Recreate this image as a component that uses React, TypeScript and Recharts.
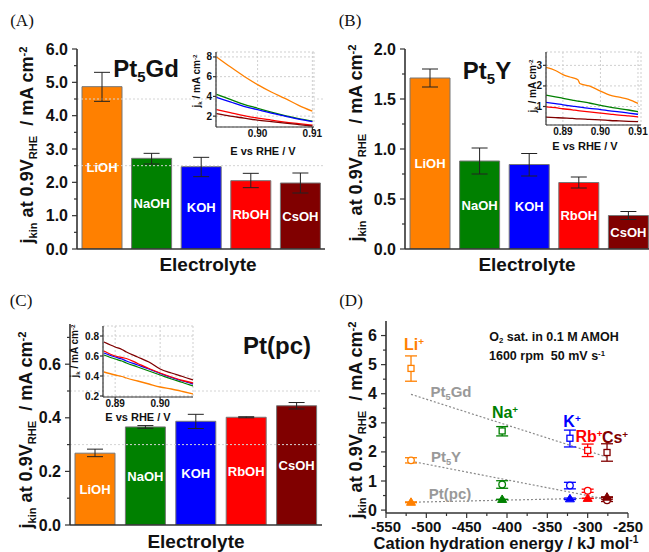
import React from 'react';
import {
  BarChart,
  Bar,
  Cell,
  XAxis,
  YAxis,
  ErrorBar,
  LabelList,
  ReferenceLine,
  LineChart,
  Line,
  CartesianGrid,
  ComposedChart,
  Scatter,
} from 'recharts';

const FONT = '"Liberation Sans", Arial, Helvetica, sans-serif';
const SERIF = '"Liberation Serif", "Times New Roman", serif';
const AXIS = '#333';

// categories
const electrolytes = ['LiOH', 'NaOH', 'KOH', 'RbOH', 'CsOH'];
const cations = ['Li', 'Na', 'K', 'Rb', 'Cs'];
const colors = ['#ff8000', '#008000', '#0000ff', '#ff0000', '#800000'];
const hydrationEnergy = [-519, -406, -322, -300, -276];

// j_kin at 0.9 V_RHE, mA cm-2 (value, low and high end of the error bar)
const pt5GdValues = [4.87, 2.72, 2.47, 2.05, 1.98];
const pt5GdLow = [4.43, 2.55, 2.17, 1.84, 1.68];
const pt5GdHigh = [5.3, 2.87, 2.75, 2.27, 2.28];
const pt5YValues = [1.71, 0.88, 0.845, 0.665, 0.335];
const pt5YLow = [1.62, 0.75, 0.73, 0.61, 0.295];
const pt5YHigh = [1.8, 1.01, 0.955, 0.72, 0.375];
const ptPcValues = [0.268, 0.366, 0.387, 0.402, 0.445];
const ptPcLow = [0.255, 0.361, 0.36, 0.4, 0.433];
const ptPcHigh = [0.283, 0.371, 0.413, 0.404, 0.457];

// dotted trend lines in (D)
const trendX = [-519, -276];
const gdTrendY = [3.98, 1.82];
const yTrendY = [1.68, 0.37];
const pcTrendY = [0.27, 0.42];

// ticks
const yMajorA = [0, 1, 2, 3, 4, 5, 6];
const yMinorA = [0.5, 1.5, 2.5, 3.5, 4.5, 5.5];
const yMajorB = [0, 0.5, 1, 1.5, 2];
const yMinorB = [0.25, 0.75, 1.25, 1.75];
const yMajorC = [0, 0.2, 0.4, 0.6];
const yMinorC = [0.1, 0.3, 0.5, 0.7];
const yMajorD = [0, 1, 2, 3, 4, 5, 6];
const yMinorD = [0.5, 1.5, 2.5, 3.5, 4.5, 5.5];
const xMajorD = [-550, -500, -450, -400, -350, -300, -250];
const xMinorD = [-525, -475, -425, -375, -325, -275];

// insets: j_k vs E
const insetAE = [0.8925, 0.895, 0.8975, 0.9, 0.9025, 0.905, 0.9075, 0.91];
const insetALi = [8.0, 7.0, 6.05, 5.2, 4.45, 3.8, 3.1, 2.5];
const insetANa = [4.2, 3.7, 3.2, 2.8, 2.4, 2.05, 1.75, 1.5];
const insetAK = [3.9, 3.45, 3.0, 2.65, 2.3, 2.0, 1.7, 1.45];
const insetARb = [2.65, 2.35, 2.05, 1.8, 1.6, 1.4, 1.25, 1.1];
const insetACs = [2.25, 2.0, 1.8, 1.6, 1.45, 1.3, 1.15, 1.0];

const insetBE = [0.8855, 0.888, 0.89, 0.8925, 0.894, 0.8945, 0.897, 0.9, 0.9025, 0.905, 0.9075, 0.91];
const insetBLi = [2.9, 2.75, 2.55, 2.4, 2.3, 2.12, 2.0, 1.75, 1.55, 1.45, 1.35, 1.15];
const insetBNa = [1.55, 1.47, 1.4, 1.31, 1.26, 1.25, 1.17, 1.05, 0.97, 0.9, 0.83, 0.75];
const insetBK = [1.2, 1.14, 1.08, 1.02, 0.98, 0.97, 0.91, 0.85, 0.79, 0.74, 0.68, 0.62];
const insetBRb = [0.98, 0.94, 0.89, 0.84, 0.8, 0.79, 0.74, 0.68, 0.63, 0.58, 0.54, 0.5];
const insetBCs = [0.48, 0.46, 0.44, 0.42, 0.4, 0.4, 0.37, 0.35, 0.32, 0.3, 0.28, 0.26];

const insetCE = [0.8875, 0.89, 0.8915, 0.8925, 0.895, 0.8975, 0.9, 0.9025, 0.905, 0.9073];
const insetCLi = [0.44, 0.41, 0.395, 0.38, 0.35, 0.32, 0.29, 0.27, 0.245, 0.22];
const insetCNa = [0.61, 0.57, 0.55, 0.53, 0.49, 0.45, 0.41, 0.37, 0.335, 0.3];
const insetCK = [0.63, 0.59, 0.57, 0.55, 0.51, 0.47, 0.425, 0.385, 0.35, 0.32];
const insetCRb = [0.65, 0.6, 0.585, 0.575, 0.525, 0.475, 0.43, 0.39, 0.355, 0.33];
const insetCCs = [0.74, 0.69, 0.665, 0.64, 0.59, 0.54, 0.47, 0.43, 0.395, 0.36];

const frameLine = { stroke: AXIS, strokeWidth: 1.6 };

function yTick(axisX: number, majors: number[], fmt: (v: number) => string, size: number) {
  return (p: any) => {
    const v = p.payload.value;
    const major = majors.includes(v);
    return (
      <g>
        <line x1={axisX - (major ? 5 : 3)} x2={axisX} y1={p.y} y2={p.y} stroke={AXIS} strokeWidth={1.2} />
        {major && (
          <text x={axisX - 9} y={p.y} textAnchor="end" dominantBaseline="central"
            fontSize={size} fontWeight="bold" fontFamily={FONT} fill="#111">
            {fmt(v)}
          </text>
        )}
      </g>
    );
  };
}

function xTick(axisY: number, majors: number[], size: number) {
  return (p: any) => {
    const v = p.payload.value;
    const major = majors.includes(v);
    return (
      <g>
        <line x1={p.x} x2={p.x} y1={axisY} y2={axisY + (major ? 5 : 3)} stroke={AXIS} strokeWidth={1.2} />
        {major && (
          <text x={p.x} y={axisY + 13} textAnchor="middle" dominantBaseline="central"
            fontSize={size} fontWeight="bold" fontFamily={FONT} fill="#111">
            {v}
          </text>
        )}
      </g>
    );
  };
}

function Txt({ x, y, size, color = '#111', bold = true, serif = false, rotate = false, children }: any) {
  return (
    <div
      style={{
        position: 'absolute',
        left: x,
        top: y,
        transform: `translate(-50%, -50%)${rotate ? ' rotate(-90deg)' : ''}`,
        whiteSpace: 'pre',
        lineHeight: 1,
        fontSize: size,
        fontWeight: bold ? 'bold' : 'normal',
        fontFamily: serif ? SERIF : FONT,
        color,
      }}
    >
      {children}
    </div>
  );
}

const Sub = ({ children }: any) => (
  <span style={{ fontSize: '0.62em', position: 'relative', top: '0.32em' }}>{children}</span>
);
const Sup = ({ children }: any) => (
  <span style={{ fontSize: '0.62em', position: 'relative', top: '-0.55em' }}>{children}</span>
);

const JkinLabel = () => (
  <>
    j<Sub>kin</Sub> at 0.9V<Sub>RHE</Sub>{'  '}/ mA cm<Sup>-2</Sup>
  </>
);

function BarPanel(p: any) {
  const data = electrolytes.map((name, i) => ({
    name,
    value: p.values[i],
    err: [p.values[i] - p.low[i], p.high[i] - p.values[i]],
  }));
  return (
    <div style={{ position: 'absolute', left: p.left, top: p.top }}>
      <BarChart width={p.width} height={p.height} data={data}
        margin={{ top: p.mTop, right: p.mRight, left: 0, bottom: 0 }}>
        <XAxis dataKey="name" tick={false} tickLine={false} height={p.xH} axisLine={frameLine} />
        <XAxis xAxisId="t" orientation="top" type="number" domain={[0, 1]} tick={false}
          tickLine={false} height={0} axisLine={frameLine} />
        <YAxis type="number" domain={[0, p.yMax]} allowDataOverflow ticks={[...p.majors, ...p.minors]}
          interval={0} width={p.yW} tickLine={false} axisLine={frameLine}
          tick={yTick(p.yW, p.majors, p.fmt, 16)} />
        <YAxis yAxisId="r" orientation="right" type="number" domain={[0, 1]} width={0}
          tick={false} tickLine={false} axisLine={frameLine} />
        {p.gridLines.map((v: number) => (
          <ReferenceLine key={v} y={v} stroke="#d4d4d4" strokeDasharray="2 2" />
        ))}
        <Bar dataKey="value" barSize={40} stroke="#777" strokeWidth={1} isAnimationActive={false}>
          {data.map((d, i) => (
            <Cell key={d.name} fill={colors[i]} />
          ))}
          <LabelList dataKey="name" position="center" fill="#fff" fontSize={13}
            fontWeight="bold" fontFamily={FONT} />
          <ErrorBar dataKey="err" width={8} stroke="#222" strokeWidth={1} direction="y" />
        </Bar>
      </BarChart>
    </div>
  );
}

function Inset(p: any) {
  const data = p.E.map((e: number, i: number) => ({
    E: e,
    li: p.series[0][i],
    na: p.series[1][i],
    k: p.series[2][i],
    rb: p.series[3][i],
    cs: p.series[4][i],
  }));
  const tickStyle = { fontSize: 10, fontWeight: 'bold', fill: '#111', fontFamily: FONT };
  const thin = { stroke: AXIS, strokeWidth: 1.2 };
  return (
    <div style={{ position: 'absolute', left: p.left, top: p.top }}>
      <LineChart width={p.width} height={p.height} data={data}
        margin={{ top: p.mTop, right: p.mRight, left: 0, bottom: 0 }}>
        <CartesianGrid stroke="#cfcfcf" strokeDasharray="2 2" fill="#fff" />
        <XAxis dataKey="E" type="number" domain={p.xDomain} allowDataOverflow ticks={p.xTicks}
          interval={0} tickFormatter={(v: number) => v.toFixed(2)} height={p.xH} tick={tickStyle}
          tickSize={3} tickMargin={0} axisLine={thin} tickLine={thin} />
        <XAxis xAxisId="t" orientation="top" type="number" domain={[0, 1]} tick={false}
          tickLine={false} height={0} axisLine={thin} />
        <YAxis type="number" domain={p.yDomain} allowDataOverflow ticks={p.yTicks} interval={0}
          width={p.yW} tick={tickStyle} tickSize={3} tickMargin={1} axisLine={thin} tickLine={thin} />
        <YAxis yAxisId="r" orientation="right" type="number" domain={[0, 1]} width={0}
          tick={false} tickLine={false} axisLine={thin} />
        {['li', 'na', 'k', 'rb', 'cs'].map((k, i) => (
          <Line key={k} dataKey={k} type="monotone" stroke={colors[i]} strokeWidth={1.3}
            dot={false} isAnimationActive={false} />
        ))}
      </LineChart>
    </div>
  );
}

function markerShape(color: string) {
  return (props: any) => {
    const { cx, cy, payload } = props;
    if (cx == null || cy == null) return <g />;
    if (payload.mat === 'gd') {
      return <rect x={cx - 3} y={cy - 3} width={6} height={6} fill="#fff" stroke={color} strokeWidth={1.3} />;
    }
    if (payload.mat === 'y') {
      return <circle cx={cx} cy={cy} r={3.3} fill="#fff" stroke={color} strokeWidth={1.3} />;
    }
    return <path d={`M${cx},${cy - 4.5} L${cx + 4.5},${cy + 3} L${cx - 4.5},${cy + 3} Z`} fill={color} stroke={color} />;
  };
}

function PanelD() {
  const points = (i: number) => [
    { x: hydrationEnergy[i], y: pt5GdValues[i], err: [pt5GdValues[i] - pt5GdLow[i], pt5GdHigh[i] - pt5GdValues[i]], mat: 'gd' },
    { x: hydrationEnergy[i], y: pt5YValues[i], err: [pt5YValues[i] - pt5YLow[i], pt5YHigh[i] - pt5YValues[i]], mat: 'y' },
    { x: hydrationEnergy[i], y: ptPcValues[i], err: [ptPcValues[i] - ptPcLow[i], ptPcHigh[i] - ptPcValues[i]], mat: 'pc' },
  ];
  const trends = [gdTrendY, yTrendY, pcTrendY].map((ys) => trendX.map((x, i) => ({ x, y: ys[i] })));
  return (
    <div style={{ position: 'absolute', left: 330, top: 280 }}>
      <ComposedChart width={319} height={272} margin={{ top: 41, right: 21, left: 0, bottom: 0 }}>
        <XAxis dataKey="x" type="number" domain={[-550, -250]} allowDataOverflow
          ticks={[...xMajorD, ...xMinorD]} interval={0} height={39} tickLine={false}
          axisLine={frameLine} tick={xTick(233, xMajorD, 15)} />
        <XAxis xAxisId="t" orientation="top" type="number" domain={[0, 1]} tick={false}
          tickLine={false} height={0} axisLine={frameLine} />
        <YAxis dataKey="y" type="number" domain={[-0.1, 6.5]} allowDataOverflow
          ticks={[...yMajorD, ...yMinorD]} interval={0} width={56} tickLine={false}
          axisLine={frameLine} tick={yTick(56, yMajorD, (v) => String(v), 16)} />
        <YAxis yAxisId="r" orientation="right" type="number" domain={[0, 1]} width={0}
          tick={false} tickLine={false} axisLine={frameLine} />
        {trends.map((t, i) => (
          <Line key={i} data={t} dataKey="y" type="linear" stroke="#8a8a8a" strokeWidth={1.2}
            strokeDasharray="2 2" dot={false} isAnimationActive={false} />
        ))}
        {cations.map((c, i) => (
          <Scatter key={c} name={c} data={points(i)} dataKey="y" shape={markerShape(colors[i])}
            isAnimationActive={false}>
            <ErrorBar dataKey="err" direction="y" width={6} stroke={colors[i]} strokeWidth={1.3} />
          </Scatter>
        ))}
      </ComposedChart>
    </div>
  );
}

export default function App() {
  return (
    <div style={{ position: 'absolute', left: 0, top: 0, width: 649, height: 552, overflow: 'hidden', background: '#fff' }}>
      {/* (A) Pt5Gd */}
      <BarPanel left={0} top={0} width={330} height={280} mTop={49} mRight={5} xH={31} yW={77}
        values={pt5GdValues} low={pt5GdLow} high={pt5GdHigh} yMax={6}
        majors={yMajorA} minors={yMinorA} fmt={(v: number) => v.toFixed(1)} gridLines={[2.5, 4.5]} />
      {/* (B) Pt5Y */}
      <BarPanel left={330} top={0} width={330} height={280} mTop={49} mRight={7} xH={31} yW={75}
        values={pt5YValues} low={pt5YLow} high={pt5YHigh} yMax={2}
        majors={yMajorB} minors={yMinorB} fmt={(v: number) => v.toFixed(1)} gridLines={[]} />
      {/* (C) Pt(pc) */}
      <BarPanel left={0} top={280} width={330} height={272} mTop={44} mRight={8} xH={27} yW={70}
        values={ptPcValues} low={ptPcLow} high={ptPcHigh} yMax={0.75}
        majors={yMajorC} minors={yMinorC} fmt={(v: number) => v.toFixed(1)} gridLines={[0.3, 0.5]} />
      <PanelD />

      <Inset left={186} top={45} width={143} height={115} mTop={7} mRight={15} yW={30} xH={33}
        E={insetAE} series={[insetALi, insetANa, insetAK, insetARb, insetACs]}
        xDomain={[0.8924, 0.9103]} xTicks={[0.9, 0.91]} yDomain={[0.9, 8.5]} yTicks={[2, 4, 6, 8]} />
      <Inset left={516} top={45} width={133} height={110} mTop={7} mRight={8} yW={30} xH={30}
        E={insetBE} series={[insetBLi, insetBNa, insetBK, insetBRb, insetBCs]}
        xDomain={[0.8855, 0.9108]} xTicks={[0.89, 0.9, 0.91]} yDomain={[0.1, 3.65]} yTicks={[1, 2, 3]} />
      <Inset left={73} top={320} width={125} height={100} mTop={6} mRight={5} yW={30} xH={23}
        E={insetCE} series={[insetCLi, insetCNa, insetCK, insetCRb, insetCCs]}
        xDomain={[0.8873, 0.9073]} xTicks={[0.89, 0.9]} yDomain={[0.19, 0.9]} yTicks={[0.2, 0.4, 0.6, 0.8]} />

      {/* panel letters */}
      <Txt x={22} y={20} size={17} bold={false} serif>(A)</Txt>
      <Txt x={350} y={20} size={17} bold={false} serif>(B)</Txt>
      <Txt x={21} y={300} size={17} bold={false} serif>(C)</Txt>
      <Txt x={351} y={300} size={17} bold={false} serif>(D)</Txt>

      {/* panel titles */}
      <Txt x={146} y={69} size={24}>Pt<Sub>5</Sub>Gd</Txt>
      <Txt x={487} y={71} size={24}>Pt<Sub>5</Sub>Y</Txt>
      <Txt x={277} y={346} size={24}>Pt(pc)</Txt>

      {/* axis titles */}
      <Txt x={27} y={145} size={18} rotate><JkinLabel /></Txt>
      <Txt x={356} y={143} size={18} rotate><JkinLabel /></Txt>
      <Txt x={26} y={430} size={18} rotate><JkinLabel /></Txt>
      <Txt x={356} y={420} size={18} rotate><JkinLabel /></Txt>
      <Txt x={208} y={264} size={19}>Electrolyte</Txt>
      <Txt x={527} y={264} size={19}>Electrolyte</Txt>
      <Txt x={196} y={541} size={19}>Electrolyte</Txt>
      <Txt x={506} y={543} size={16.5}>Cation hydration energy / kJ mol<Sup>-1</Sup></Txt>

      {/* inset axis titles */}
      <Txt x={263} y={151} size={11}>E vs RHE / V</Txt>
      <Txt x={585} y={146} size={11}>E vs RHE / V</Txt>
      <Txt x={138} y={417} size={11}>E vs RHE / V</Txt>
      <Txt x={197} y={81} size={10} rotate>j<Sub>k</Sub> / mA cm<Sup>-2</Sup></Txt>
      <Txt x={533} y={86} size={10} rotate>j<Sub>k</Sub> / mA cm<Sup>-2</Sup></Txt>
      <Txt x={75} y={351} size={10} rotate>j<Sub>k</Sub> / mA cm<Sup>-2</Sup></Txt>

      {/* (D) annotations */}
      <Txt x={554} y={337} size={12.5}>O<Sub>2</Sub> sat. in 0.1 M AMOH</Txt>
      <Txt x={547} y={356} size={12.5}>1600 rpm  50 mV s<Sup>-1</Sup></Txt>
      <Txt x={414} y={345} size={16} color={colors[0]}>Li<Sup>+</Sup></Txt>
      <Txt x={505} y={413} size={16} color={colors[1]}>Na<Sup>+</Sup></Txt>
      <Txt x={572} y={422} size={16} color={colors[2]}>K<Sup>+</Sup></Txt>
      <Txt x={589} y={437} size={16} color={colors[3]}>Rb<Sup>+</Sup></Txt>
      <Txt x={615} y={438} size={16} color={colors[4]}>Cs<Sup>+</Sup></Txt>
      <Txt x={451} y={392} size={15} color="#999">Pt<Sub>5</Sub>Gd</Txt>
      <Txt x={446} y={457} size={15} color="#999">Pt<Sub>5</Sub>Y</Txt>
      <Txt x={450} y={493} size={15} color="#999">Pt(pc)</Txt>
    </div>
  );
}
